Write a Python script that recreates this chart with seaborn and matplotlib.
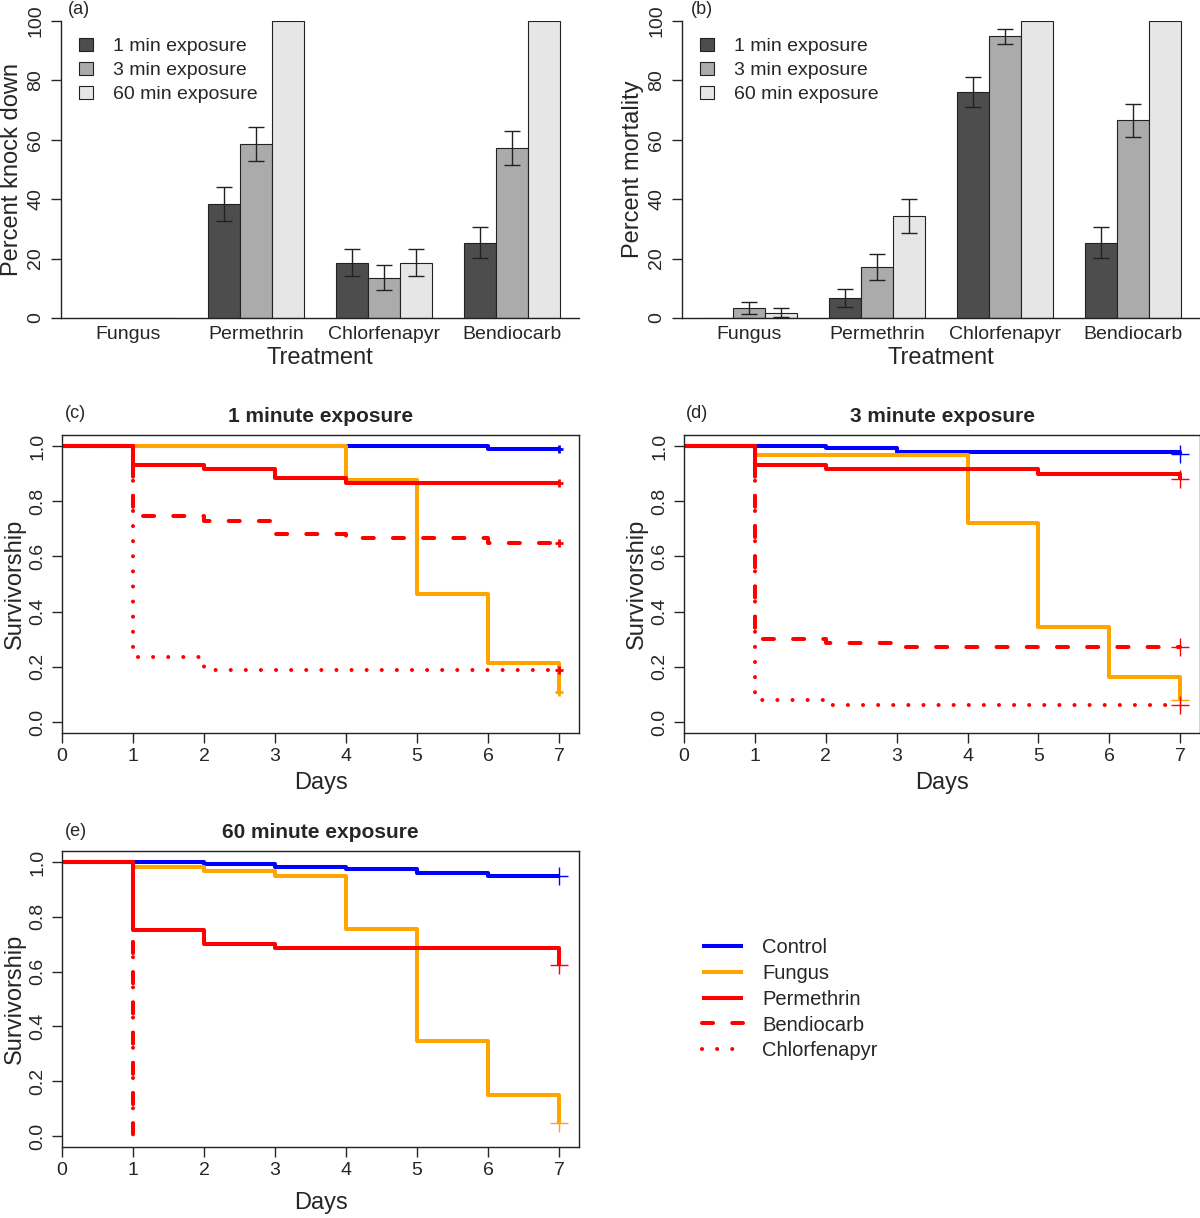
import matplotlib.pyplot as plt
import pandas as pd
import seaborn as sns

sns.set_style('ticks')
plt.rcParams['font.family'] = ['Liberation Sans', 'DejaVu Sans']

W, H = 1200, 1218

treatments = ['Fungus', 'Permethrin', 'Chlorfenapyr', 'Bendiocarb']
exposures = ['1 min exposure', '3 min exposure', '60 min exposure']
bar_colors = ['#4d4d4d', '#ababab', '#e6e6e6']

# (a) percent knock down
knock_1 = [0, 38.3, 18.6, 25.3]
knock_3 = [0, 58.6, 13.6, 57.2]
knock_60 = [0, 100, 18.6, 100]
knock_err_1 = [0, 5.7, 4.6, 5.2]
knock_err_3 = [0, 5.8, 4.1, 5.8]
knock_err_60 = [0, 0, 4.6, 0]

# (b) percent mortality
mort_1 = [0, 6.6, 76.2, 25.3]
mort_3 = [3.3, 17.2, 94.8, 66.6]
mort_60 = [1.7, 34.3, 100, 100]
mort_err_1 = [0, 3.0, 5.0, 5.2]
mort_err_3 = [2.1, 4.4, 2.6, 5.5]
mort_err_60 = [1.5, 5.6, 0, 0]

# survival curves: (days, survivorship)
series = ['Control', 'Fungus', 'Permethrin', 'Bendiocarb', 'Chlorfenapyr']
line_colors = ['#0000ff', '#ffa500', '#ff0000', '#ff0000', '#ff0000']
line_styles = ['-', '-', '-', (0, (2.75, 4.75)), (0, (0.01, 3.74))]

surv_1min = {
    'Control': ([0, 6, 7], [1.0, 0.99, 0.99]),
    'Fungus': ([0, 4, 5, 6, 7], [1.0, 0.877, 0.465, 0.213, 0.107]),
    'Permethrin': ([0, 1, 2, 3, 4, 7], [1.0, 0.932, 0.915, 0.883, 0.867, 0.867]),
    'Bendiocarb': ([0, 1, 2, 3, 4, 6, 7], [1.0, 0.745, 0.728, 0.681, 0.666, 0.65, 0.65]),
    'Chlorfenapyr': ([0, 1, 2, 7], [1.0, 0.237, 0.187, 0.187]),
}
surv_3min = {
    'Control': ([0, 2, 3, 7], [1.0, 0.992, 0.978, 0.972]),
    'Fungus': ([0, 1, 4, 5, 6, 7], [1.0, 0.966, 0.72, 0.343, 0.163, 0.081]),
    'Permethrin': ([0, 1, 2, 5, 7], [1.0, 0.932, 0.915, 0.898, 0.881]),
    'Bendiocarb': ([0, 1, 2, 3, 7], [1.0, 0.30, 0.287, 0.272, 0.272]),
    'Chlorfenapyr': ([0, 1, 2, 7], [1.0, 0.08, 0.062, 0.062]),
}
surv_60min = {
    'Control': ([0, 2, 3, 4, 5, 6, 7], [1.0, 0.993, 0.983, 0.975, 0.958, 0.947, 0.947]),
    'Fungus': ([0, 1, 2, 3, 4, 5, 6, 7], [1.0, 0.981, 0.966, 0.949, 0.755, 0.345, 0.148, 0.048]),
    'Permethrin': ([0, 1, 2, 3, 7], [1.0, 0.751, 0.70, 0.687, 0.625]),
    'Bendiocarb': ([0, 1], [1.0, 0.0]),
    'Chlorfenapyr': ([0, 1], [1.0, 0.0]),
}

fig = plt.figure(figsize=(W / 100, H / 100), dpi=100)


def add_ax(left, right, top, bottom):
    return fig.add_axes([left / W, 1 - bottom / H, (right - left) / W, (bottom - top) / H])


def bar_panel(ax, vals, errs, ylabel):
    df = pd.DataFrame({
        'Treatment': treatments * 3,
        'exposure': [e for e in exposures for _ in treatments],
        'value': vals[0] + vals[1] + vals[2],
    })
    sns.barplot(data=df, x='Treatment', y='value', hue='exposure', palette=bar_colors,
                width=0.75, gap=0, edgecolor='#222222', linewidth=0.8, errorbar=None, ax=ax)
    for cont, err in zip(ax.containers, errs):
        keep = [i for i, e in enumerate(err) if e > 0]
        xs = [cont[i].get_x() + cont[i].get_width() / 2 for i in keep]
        ys = [cont[i].get_height() for i in keep]
        ax.errorbar(xs, ys, yerr=[err[i] for i in keep], fmt='none', ecolor='#222222',
                    elinewidth=1.0, capsize=5.5, capthick=1.0)
    ax.set_xlim(-0.525, 3.525)
    ax.set_ylim(0, 100)
    sns.despine(ax=ax)
    ax.set_yticks([0, 20, 40, 60, 80, 100])
    ax.set_yticklabels(['0', '20', '40', '60', '80', '100'], rotation=90, va='center')
    ax.tick_params(axis='y', length=7, width=1, labelsize=14, pad=5)
    ax.tick_params(axis='x', length=0, labelsize=14, pad=6)
    for s in ax.spines.values():
        s.set_linewidth(1)
        s.set_color('#222222')
    ax.set_xlabel('Treatment', fontsize=17, labelpad=3)
    ax.set_ylabel(ylabel, fontsize=17, labelpad=3)
    ax.legend(loc='upper left', bbox_to_anchor=(0.035, 0.943), frameon=False, fontsize=14,
              handlelength=0.72, handleheight=0.67, handletextpad=1.0, labelspacing=0.33,
              borderaxespad=0, borderpad=0, title=None)


def surv_panel(ax, curves, title, msize, mew, xpad):
    handles = []
    for name, col, ls in zip(series, line_colors, line_styles):
        t, s = curves[name]
        sns.lineplot(x=t, y=s, ax=ax, color=col, linestyle=ls, linewidth=2.9,
                     drawstyle='steps-post', estimator=None, sort=False,
                     dash_capstyle='round', solid_capstyle='butt')
        handles.append(ax.lines[-1])
        if t[-1] == 7:
            sns.scatterplot(x=[t[-1]], y=[s[-1]], marker='+', s=msize ** 2, color=col,
                            linewidth=mew, ax=ax, zorder=4)
    ax.set_xlim(0, 7.28)
    ax.set_ylim(-0.04, 1.04)
    ax.set_xticks(range(8))
    ax.set_yticks([0, 0.2, 0.4, 0.6, 0.8, 1.0])
    ax.set_yticklabels(['0.0', '0.2', '0.4', '0.6', '0.8', '1.0'], rotation=90, va='center')
    ax.tick_params(axis='both', length=7, width=1, labelsize=14, pad=4)
    for s in ax.spines.values():
        s.set_linewidth(1)
        s.set_color('#222222')
    ax.set_xlabel('Days', fontsize=17, labelpad=xpad)
    ax.set_ylabel('Survivorship', fontsize=17, labelpad=3)
    ax.set_title(title, fontsize=15, fontweight='bold', pad=9)
    return handles


ax_a = add_ax(61, 579, 21, 318)
bar_panel(ax_a, [knock_1, knock_3, knock_60], [knock_err_1, knock_err_3, knock_err_60],
          'Percent knock down')
ax_b = add_ax(682, 1200, 21, 318)
bar_panel(ax_b, [mort_1, mort_3, mort_60], [mort_err_1, mort_err_3, mort_err_60],
          'Percent mortality')

ax_c = add_ax(62, 579, 435, 733)
handles = surv_panel(ax_c, surv_1min, '1 minute exposure', 6, 2.0, 5)
ax_d = add_ax(684, 1200, 435, 733)
surv_panel(ax_d, surv_3min, '3 minute exposure', 13, 1.0, 5)
ax_e = add_ax(62, 579, 851, 1147)
surv_panel(ax_e, surv_60min, '60 minute exposure', 13, 1.0, 9)

for tag, x, y in [('(a)', 68, 10), ('(b)', 691, 10), ('(c)', 65, 413),
                  ('(d)', 686, 413), ('(e)', 65, 831)]:
    fig.text(x / W, 1 - y / H, tag, fontsize=13, ha='left', va='center')

fig.legend(handles, series, loc='upper left', bbox_to_anchor=(702 / W, 1 - 938 / H),
           frameon=False, fontsize=14.5, handlelength=2.05, handletextpad=0.95,
           labelspacing=0.34, borderaxespad=0, borderpad=0)

fig.savefig('out.png', dpi=100)
